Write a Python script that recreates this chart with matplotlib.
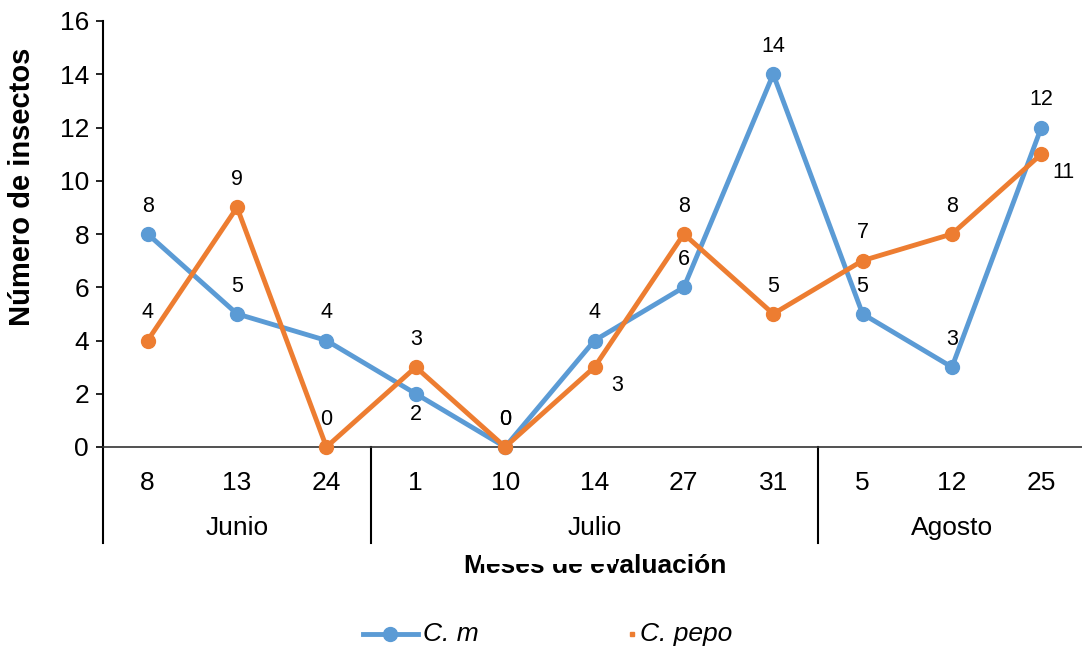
import matplotlib.pyplot as plt
from matplotlib.lines import Line2D
from matplotlib.patches import Rectangle
import numpy as np

plt.rcParams['font.family'] = ['Liberation Sans', 'DejaVu Sans']

# Fechas de muestreo y meses
dias = ['8', '13', '24', '1', '10', '14', '27', '31', '5', '12', '25']
meses = ['Junio', 'Julio', 'Agosto']
dias_por_mes = [3, 5, 3]

# Número de insectos por especie
c_m = [8, 5, 4, 2, 0, 4, 6, 14, 5, 3, 12]
c_pepo = [4, 9, 0, 3, 0, 3, 8, 5, 7, 8, 11]

# Posición de las etiquetas de datos
pos_m = ['up', 'up', 'up', 'down', 'up', 'up', 'up', 'up', 'up', 'up', 'up']
pos_pepo = ['up', 'up', 'up', 'up', 'up', 'right', 'up', 'up', 'up', 'up', 'right']

azul = '#5B9BD5'
naranja = '#ED7D31'

W, H = 1082, 647
fig = plt.figure(figsize=(W / 100, H / 100), dpi=100)
ax = fig.add_axes([103 / W, 1 - 447 / H, (1086 - 103) / W, (447 - 21) / H])

x = np.arange(len(dias))
ax.plot(x, c_m, color=azul, lw=3.5, marker='o', ms=10, zorder=3, clip_on=False)
ax.plot(x, c_pepo, color=naranja, lw=3.5, marker='o', ms=10, zorder=4, clip_on=False)

offsets = {'up': (0, 20), 'down': (0, -15), 'right': (16, -13)}
for serie, posiciones in ((c_m, pos_m), (c_pepo, pos_pepo)):
    for xi, v, p in zip(x, serie, posiciones):
        ax.annotate(str(v), (xi, v), xytext=offsets[p], textcoords='offset points',
                    ha='center', va='center', fontsize=15.5)

ax.set_xlim(-0.5, len(dias) - 0.5)
ax.set_ylim(0, 16)
ax.set_yticks(range(0, 17, 2))
ax.set_xticks(x)
ax.set_xticklabels(dias)
ax.tick_params(axis='x', length=0, pad=17, labelsize=19)
ax.tick_params(axis='y', length=5, width=1.2, direction='out', labelsize=19, pad=5)

for s in ('top', 'right'):
    ax.spines[s].set_visible(False)
ax.spines['left'].set_linewidth(1.5)
ax.spines['bottom'].set_linewidth(1.2)
ax.spines['bottom'].set_color('#333333')

# Separadores y nombres de los meses
trans = ax.get_xaxis_transform()
y_sep = -(543 - 447) / (447 - 21)
y_mes = -(528 - 447) / (447 - 21)
inicio = 0
for mes, n in zip(meses, dias_por_mes):
    ax.plot([inicio - 0.5, inicio - 0.5], [0, y_sep], color='black', lw=1.5,
            transform=trans, clip_on=False)
    ax.text(inicio + (n - 1) / 2, y_mes, mes, transform=trans, ha='center',
            va='center', fontsize=19)
    inicio += n

fig.text(22 / W, 1 - 187 / H, 'Número de insectos', rotation=90, ha='center',
         va='center', fontsize=21, fontweight='bold')
fig.text(595 / W, 1 - 573 / H, 'Meses de evaluación', ha='center', va='baseline',
         fontsize=19, fontweight='bold')

# Recuadro blanco de la leyenda sobre el título del eje
fig.patches.append(Rectangle((481 / W, 1 - 564 / H), (616 - 481) / W, 17 / H,
                             transform=fig.transFigure, facecolor='white',
                             edgecolor='none', zorder=10))

# Leyenda
y_ley = 1 - 634 / H
fig.add_artist(Line2D([363 / W, 418 / W], [y_ley, y_ley], color=azul, lw=3.5,
                      marker='o', ms=10, markevery=[], transform=fig.transFigure))
fig.add_artist(Line2D([390 / W], [y_ley], color=azul, marker='o', ms=10,
                      transform=fig.transFigure))
fig.text(423 / W, y_ley, 'C. m', style='italic', fontsize=19, va='center')
fig.add_artist(Line2D([632 / W], [y_ley], color=naranja, marker='s', ms=3.5, lw=0,
                      transform=fig.transFigure))
fig.text(640 / W, y_ley, 'C. pepo', style='italic', fontsize=19, va='center')

fig.savefig('out.png', dpi=100)
